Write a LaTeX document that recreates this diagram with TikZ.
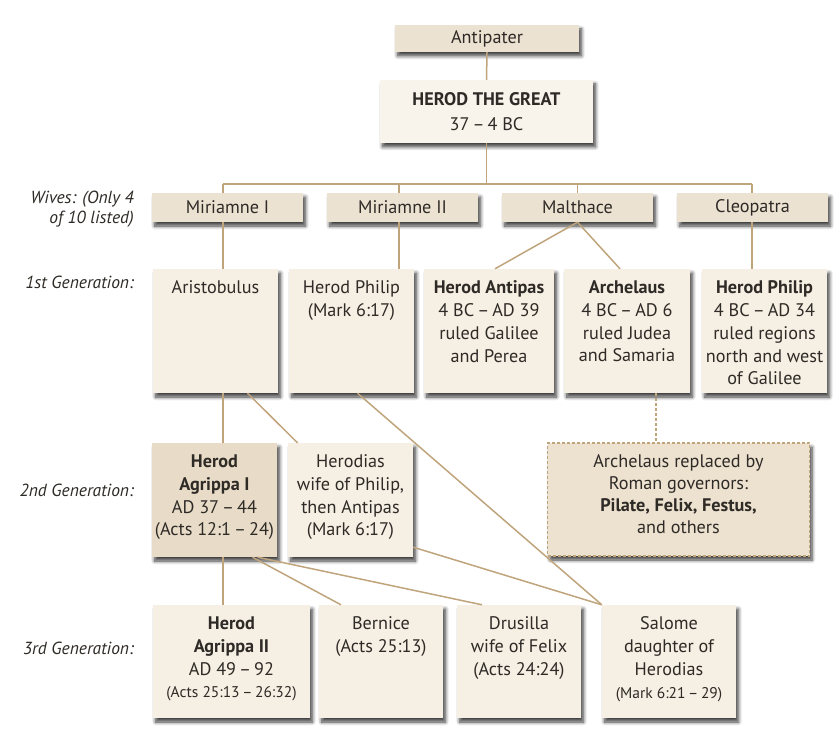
\documentclass[tikz,border=0pt]{standalone}
\usepackage{fontspec}
\setmainfont{PT Sans}
\usetikzlibrary{shadows.blur}
\definecolor{linec}{HTML}{BFA47C}
\definecolor{textc}{HTML}{2E2A26}
\definecolor{wifec}{HTML}{ECE2D2}
\definecolor{boxc}{HTML}{F6EFE4}
\definecolor{darkc}{HTML}{E8DCC8}
\definecolor{romc}{HTML}{EDE2D0}
\definecolor{topc}{HTML}{F8F3EB}
\begin{document}
\begin{tikzpicture}[x=1pt,y=-1pt,
  every node/.style={font=\fontsize{18.2}{22.7}\selectfont, text=textc},
  base/.style={rectangle, inner sep=0pt,
    blur shadow={shadow xshift=2.5pt, shadow yshift=-4pt, shadow blur steps=8, shadow blur radius=3.5pt, shadow opacity=75}},
  wife/.style={base, fill=wifec, minimum width=151pt, minimum height=29pt},
  gen1/.style={base, fill=boxc, minimum height=124pt},
  gen2/.style={base, fill=boxc, minimum height=114pt},
  gen3/.style={base, fill=boxc, minimum height=113pt},
  txt/.style={align=center, inner sep=0pt, anchor=north},
  lbl/.style={align=right, inner sep=0pt, anchor=east, font=\fontsize{17.5}{20}\selectfont\itshape},
  conn/.style={draw=linec, line width=1.5pt}
]
\useasboundingbox (0,0) rectangle (835,735);

% top
\node[base, fill=wifec, minimum width=184pt, minimum height=27pt] (antip) at (487,38.5) {Antipater};
\node[base, fill=topc, minimum width=213pt, minimum height=63pt, align=center,
  font=\fontsize{18.2}{24.5}\selectfont] (herod) at (486.5,111.5) {\textbf{HEROD THE GREAT}\\37\,–\,4 BC};

% wives
\node[wife] (mir1) at (227.5,207.5) {Miriamne I};
\node[wife] (mir2) at (402.5,207.5) {Miriamne II};
\node[wife] (malt) at (577.5,207.5) {Malthace};
\node[wife] (cleo) at (752.5,207.5) {Cleopatra};

% 1st generation
\node[gen1, minimum width=125pt] (aris) at (215.5,331) {};
\node[gen1, minimum width=125pt] (hphil) at (351.5,331) {};
\node[gen1, minimum width=130pt] (antipas) at (489,331) {};
\node[gen1, minimum width=126pt] (arch) at (627,331) {};
\node[gen1, minimum width=125pt] (hphilc) at (764.5,331) {};
\node[txt] (arist) at ([yshift=-12pt]aris.north) {Aristobulus};
\node[txt] (hphilt) at ([yshift=-12pt]hphil.north) {Herod Philip\\(Mark 6:17)};
\node[txt] (antipast) at ([yshift=-12pt]antipas.north) {\textbf{Herod Antipas}\\4 BC\,–\,AD 39\\ruled Galilee\\and Perea};
\node[txt] (archt) at ([yshift=-12pt]arch.north) {\textbf{Archelaus}\\4 BC\,–\,AD 6\\ruled Judea\\and Samaria};
\node[txt] (hphilct) at ([yshift=-12pt]hphilc.north) {\textbf{Herod Philip}\\4 BC\,–\,AD 34\\ruled regions\\north and west\\of Galilee};

% 2nd generation
\node[gen2, fill=darkc, minimum width=125pt] (agr1) at (214.5,500) {};
\node[gen2, minimum width=125pt] (hdias) at (350.5,500) {};
\node[base, fill=romc, draw=linec, line width=1.2pt, dash pattern=on 3pt off 2pt,
  minimum width=262pt, minimum height=113pt] (roman) at (678.5,499.5) {};
\node[txt] (agr1t) at ([yshift=-12pt]agr1.north) {\textbf{Herod}\\\textbf{Agrippa I}\\AD 37\,–\,44\\(Acts 12:1\,–\,24)};
\node[txt] (hdiast) at ([yshift=-12pt]hdias.north) {Herodias\\wife of Philip,\\then Antipas\\(Mark 6:17)};
\node[txt, font=\fontsize{18.2}{21.5}\selectfont] (romant) at ([yshift=-12pt]roman.north) {Archelaus replaced by\\Roman governors:\\[1pt]\textbf{Pilate, Felix, Festus,}\\and others};

% 3rd generation
\node[gen3, minimum width=157pt] (agr2) at (231.5,661.5) {};
\node[gen3, minimum width=124pt] (bern) at (381,661.5) {};
\node[gen3, minimum width=124pt] (drus) at (519,661.5) {};
\node[gen3, minimum width=134pt] (salo) at (669,661.5) {};
\node[txt] (agr2t) at ([yshift=-12pt]agr2.north) {\textbf{Herod}\\\textbf{Agrippa II}\\AD 49\,–\,92\\{\fontsize{15.5}{22.7}\selectfont(Acts 25:13\,–\,26:32)}};
\node[txt] (bernt) at ([yshift=-12pt]bern.north) {Bernice\\(Acts 25:13)};
\node[txt] (drust) at ([yshift=-12pt]drus.north) {Drusilla\\wife of Felix\\(Acts 24:24)};
\node[txt] (salot) at ([yshift=-12pt]salo.north) {Salome\\daughter of\\Herodias\\{\fontsize{15.5}{22.7}\selectfont(Mark 6:21\,–\,29)}};

% left labels
\node[lbl] (lw) at (134,209) {Wives: (Only 4\\of 10 listed)};
\node[lbl] (l1) at (134,282) {1st Generation:};
\node[lbl] (l2) at (134,490) {2nd Generation:};
\node[lbl] (l3) at (134,648) {3rd Generation:};

% connectors
\coordinate (busL) at (223,184);
\coordinate (busR) at (752,184);
\draw[conn] (antip.south) -- (herod.north);
\draw[conn] (herod.south) -- (herod.south |- busL);
\draw[conn] (busL) -- (busR);
\draw[conn] (busL) -- (busL |- mir1.north);
\draw[conn] ([xshift=-3.5pt]mir2.north |- busL) -- ([xshift=-3.5pt]mir2.north);
\draw[conn] (malt.north |- busL) -- (malt.north);
\draw[conn] (busR) -- (busR |- cleo.north);
\draw[conn] (busL |- mir1.south) -- (busL |- aris.north);
\draw[conn] ([xshift=-3.5pt]mir2.south) -- ([xshift=-3.5pt]mir2.south |- hphil.north);
\draw[conn] (malt.south) -- ([xshift=6pt]antipas.north);
\draw[conn] (malt.south) -- ([xshift=-7pt]arch.north);
\draw[conn] (busR |- cleo.south) -- (busR |- hphilc.north);
\draw[conn] (busL |- aris.south) -- (busL |- agr1.north);
\draw[conn] ([xshift=32pt]aris.south) -- ([xshift=-53pt]hdias.north);
\draw[conn] ([xshift=6pt]hphil.south) -- (salo.north west);
\draw[conn, dash pattern=on 3pt off 2pt, line width=1.2pt] ([xshift=29pt]arch.south) -- ([xshift=29pt]arch.south |- roman.north);
\draw[conn] (busL |- agr1.south) -- (busL |- agr2.north);
\draw[conn] ([xshift=38pt]agr1.south) -- ([xshift=-40pt]bern.north);
\draw[conn] ([xshift=43pt]agr1.south) -- ([xshift=-37pt]drus.north);
\draw[conn] ([yshift=10pt]hdias.south east) -- (salo.north west);
\end{tikzpicture}
\end{document}
